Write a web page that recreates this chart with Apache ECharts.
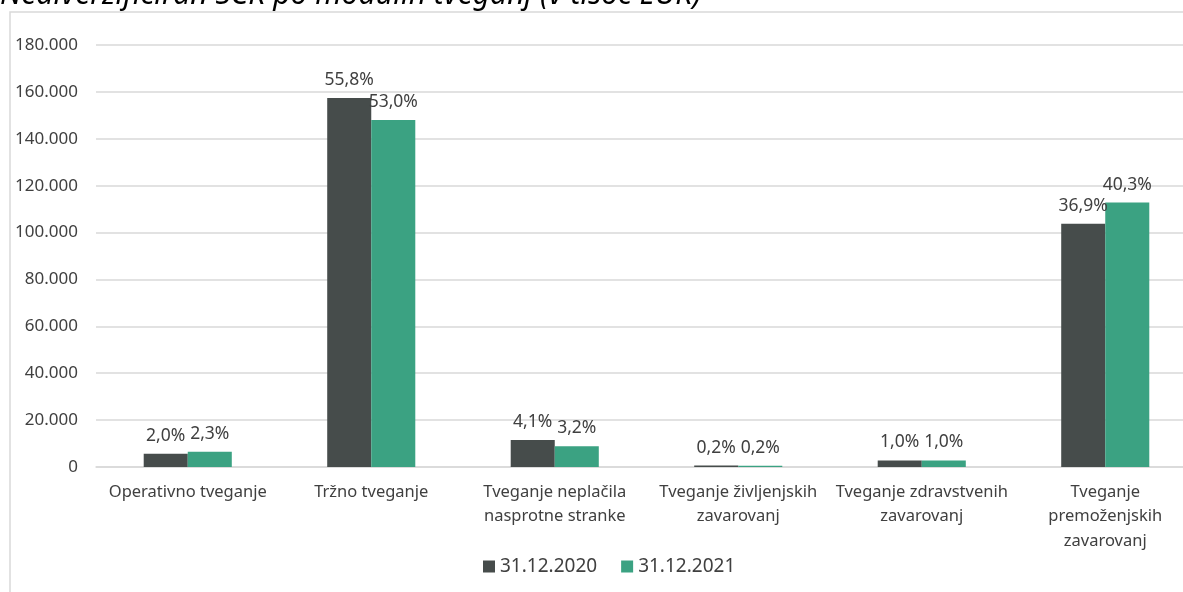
<!DOCTYPE html>
<html>
<head>
<meta charset="utf-8">
<script src="https://cdn.jsdelivr.net/npm/echarts@6/dist/echarts.min.js"></script>
<style>
  html, body { margin: 0; padding: 0; background: #fff; }
  #chart { width: 1183px; height: 592px; }
</style>
</head>
<body>
<div id="chart"></div>
<script>
// Risk modules (categories)
const categories = [
  'Operativno tveganje',
  'Tržno tveganje',
  'Tveganje neplačila\nnasprotne stranke',
  'Tveganje življenjskih\nzavarovanj',
  'Tveganje zdravstvenih\nzavarovanj',
  'Tveganje\npremoženjskih\nzavarovanj'
];

// SCR per module, thousand EUR
const scr2020 = [5600, 157400, 11500, 600, 2800, 103800];
const scr2021 = [6500, 148000, 8900, 550, 2800, 112800];

// Share of total, shown above each bar
const share2020 = ['2,0%', '55,8%', '4,1%', '0,2%', '1,0%', '36,9%'];
const share2021 = ['2,3%', '53,0%', '3,2%', '0,2%', '1,0%', '40,3%'];

const seriesNames = ['31.12.2020', '31.12.2021'];
const yTicks = { min: 0, max: 180000, interval: 20000 };

const FONT = 'Noto Sans';
const TXT = '#404040';

function thousands(v) {
  return String(v).replace(/\B(?=(\d{3})+(?!\d))/g, '.');
}

const chart = echarts.init(document.getElementById('chart'), null, { renderer: 'canvas' });

chart.setOption({
  animation: false,
  backgroundColor: '#fff',
  textStyle: { fontFamily: FONT, color: TXT },
  graphic: [
    {
      type: 'text', left: 0, top: -20,
      style: {
        text: 'Nediverzificiran SCR po modulih tveganj (v tisoč EUR)',
        font: 'italic 30px "Noto Sans"', fill: '#000'
      }
    },
    {
      type: 'polyline',
      shape: { points: [[10, 600], [10, 12], [1190, 12]] },
      style: { stroke: '#d9d9d9', lineWidth: 1.5, fill: null }
    }
  ],
  legend: {
    data: seriesNames,
    top: 552,
    left: 478,
    itemWidth: 12, itemHeight: 12, itemGap: 24,
    icon: 'rect',
    textStyle: { fontFamily: FONT, fontSize: 19, color: TXT }
  },
  // plot area runs past the right edge of the canvas
  grid: {
    left: 96, width: 1101, top: 45, height: 422,
    containLabel: false, outerBoundsMode: 'none'
  },
  xAxis: {
    type: 'category',
    data: categories,
    axisLine: { show: true, lineStyle: { color: '#d9d9d9', width: 1.5 } },
    axisTick: { show: false },
    axisLabel: {
      interval: 0, margin: 13, lineHeight: 24.5,
      fontFamily: FONT, fontSize: 16.5, color: TXT
    }
  },
  yAxis: {
    type: 'value',
    min: yTicks.min, max: yTicks.max, interval: yTicks.interval,
    axisLine: { show: false },
    axisTick: { show: false },
    splitLine: { lineStyle: { color: '#d9d9d9', width: 1.5 } },
    axisLabel: {
      margin: 18, fontFamily: FONT, fontSize: 17, color: TXT,
      formatter: thousands
    }
  },
  series: [
    {
      name: seriesNames[0], type: 'bar', data: scr2020,
      barGap: '0%', barCategoryGap: '52%',
      itemStyle: { color: '#464c4b' },
      label: {
        show: true, position: 'top', distance: 9,
        fontFamily: FONT, fontSize: 17.5, color: TXT,
        formatter: p => share2020[p.dataIndex]
      }
    },
    {
      name: seriesNames[1], type: 'bar', data: scr2021,
      itemStyle: { color: '#3ba282' },
      label: {
        show: true, position: 'top', distance: 9,
        fontFamily: FONT, fontSize: 17.5, color: TXT,
        formatter: p => share2021[p.dataIndex]
      }
    }
  ]
});
</script>
</body>
</html>
